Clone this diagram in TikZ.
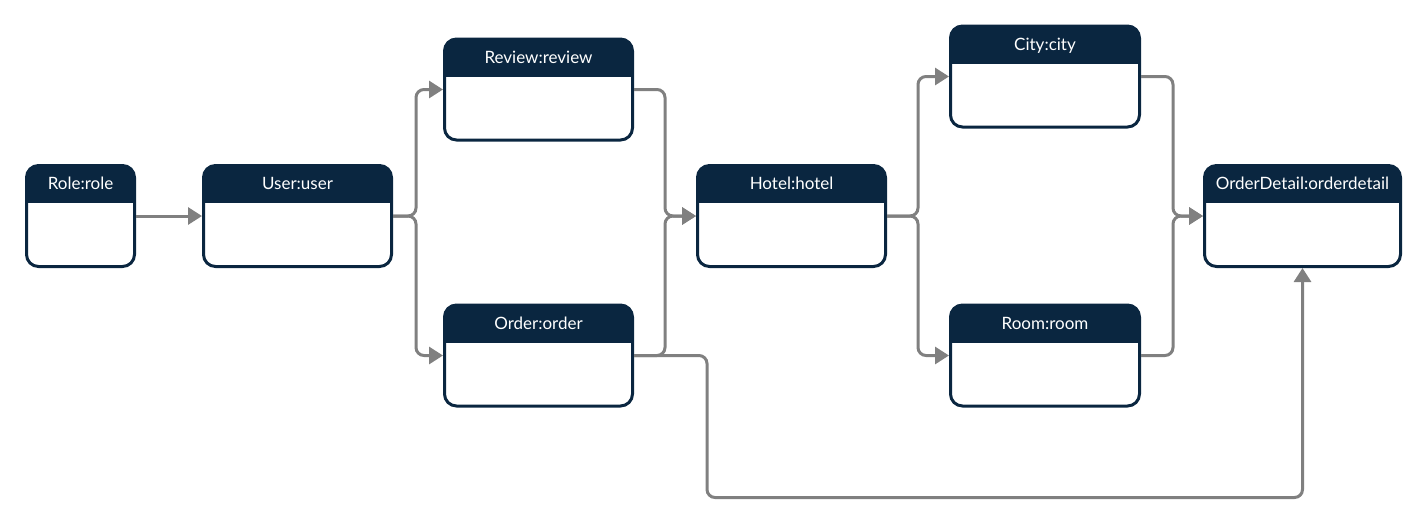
\documentclass[tikz,border=0pt]{standalone}
\usepackage{fontspec}
\setmainfont{Lato}
\usepackage{tikz}
\usetikzlibrary{arrows.meta, calc, positioning}
\definecolor{navy}{HTML}{0A2640}
\definecolor{wire}{HTML}{808080}
\tikzstyle{ent}=[fill=white, draw=navy, line width=3pt, shape=rectangle, rounded corners=12pt, minimum height=101pt, inner sep=0pt, path picture={\fill[navy, sharp corners] (path picture bounding box.north west) rectangle ([yshift=-37.5pt]path picture bounding box.north east);}]
\tikzstyle{ttl}=[text=white, inner sep=0pt, text height=12.2pt, text depth=0pt, font=\fontsize{17}{20}\selectfont]
\tikzstyle{con}=[draw=wire, line width=3pt, rounded corners=8pt, -{Triangle[length=14pt, width=17pt]}]

\begin{document}
\begin{tikzpicture}[x=1pt, y=-1pt]
		\useasboundingbox (0,0) rectangle (1428,523);

		\node[style=ent, minimum width=108pt] (1) at (80.5, 216) {};
		\node[style=ent, minimum width=188pt] (2) at (297.5, 216) {};
		\node[style=ent, minimum width=188pt] (3) at (538.5, 89.5) {};
		\node[style=ent, minimum width=188pt] (4) at (538.5, 355.5) {};
		\node[style=ent, minimum width=188pt] (5) at (791.5, 216) {};
		\node[style=ent, minimum width=189pt] (6) at (1045, 76.5) {};
		\node[style=ent, minimum width=189pt] (7) at (1045, 355.5) {};
		\node[style=ent, minimum width=196pt] (8) at (1302.5, 216) {};

		\node[style=ttl] (9) at ([yshift=-19.5pt]1.north) {Role:role};
		\node[style=ttl] (10) at ([yshift=-19.5pt]2.north) {User:user};
		\node[style=ttl] (11) at ([yshift=-19.5pt]3.north) {Review:review};
		\node[style=ttl] (12) at ([yshift=-19.5pt]4.north) {Order:order};
		\node[style=ttl] (13) at ([yshift=-19.5pt]5.north) {Hotel:hotel};
		\node[style=ttl] (14) at ([yshift=-19.5pt]6.north) {City:city};
		\node[style=ttl] (15) at ([yshift=-19.5pt]7.north) {Room:room};
		\node[style=ttl] (16) at ([yshift=-19.5pt]8.north) {OrderDetail:orderdetail};

		\draw[style=con] (1) to (2);
		\draw[style=con] (2.east) -- ++(23,0) |- (3);
		\draw[style=con] (2.east) -- ++(23,0) |- (4);
		\draw[style=con] (3.east) -- ++(31,0) |- (5);
		\draw[style=con] (4.east) -- ++(31,0) |- (5);
		\draw[style=con] (5.east) -- ++(31,0) |- (6);
		\draw[style=con] (5.east) -- ++(31,0) |- (7);
		\draw[style=con] (6.east) -- ++(32,0) |- (8);
		\draw[style=con] (7.east) -- ++(32,0) |- (8);
		\draw[style=con] (4.east) -- ++(73,0) -- ++(0,142) -| (8);
	\end{tikzpicture}
\end{document}
